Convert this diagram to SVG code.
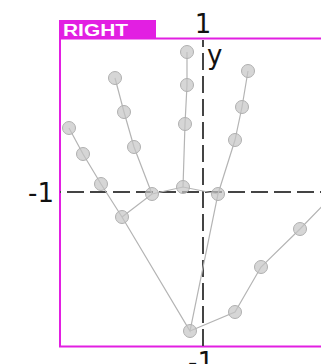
<svg xmlns="http://www.w3.org/2000/svg" width="321" height="364" viewBox="0 0 321 364">
<style>
.axis{stroke:#444;stroke-width:2;stroke-dasharray:17 6;fill:none}
.lbl{font-family:"DejaVu Sans",sans-serif;font-size:26px;fill:#111}
.bone{stroke:#b4b4b4;stroke-width:1.2;fill:none}
.joint{fill:#c4c4c4;fill-opacity:0.7;stroke:#b0b0b0;stroke-width:1}
.frame{fill:none;stroke:#e21fe2;stroke-width:2}
</style>
<rect width="321" height="364" fill="#fff"/>
<g id="frame">
<rect class="frame" x="60" y="38.5" width="280" height="308"/>
<rect x="59" y="20" width="97" height="19" fill="#e21fe2"/>
<text x="63" y="36" font-family="'Liberation Sans',sans-serif" font-weight="bold" font-size="16" fill="#fff" textLength="65" lengthAdjust="spacingAndGlyphs">RIGHT</text>
</g>
<g id="axes">
<line class="axis" x1="203" y1="346" x2="203" y2="40"/>
<line class="axis" x1="60" y1="192" x2="321" y2="192" stroke-dashoffset="16"/>
<text class="lbl" x="203" y="33" text-anchor="middle">1</text>
<text class="lbl" x="54" y="202" text-anchor="end">-1</text>
<text class="lbl" x="201" y="371" text-anchor="middle">-1</text>
<text class="lbl" x="207" y="64">y</text>
</g>
<g id="connectors">
<polyline class="bone" points="69,128 83,154 101,184 122,217 190,331 218,194 235,140 242,107 248,71"/>
<polyline class="bone" points="122,217 152,194 183,187 218,194"/>
<polyline class="bone" points="152,194 134,147 124,112 115,78"/>
<polyline class="bone" points="183,187 185,124 187,85 187,52"/>
<polyline class="bone" points="190,331 235,312 261,267 300,229 338,190"/>
</g>
<g id="joints">
<circle class="joint" cx="190" cy="331" r="6.5"/>
<circle class="joint" cx="122" cy="217" r="6.5"/>
<circle class="joint" cx="101" cy="184" r="6.5"/>
<circle class="joint" cx="83" cy="154" r="6.5"/>
<circle class="joint" cx="69" cy="128" r="6.5"/>
<circle class="joint" cx="152" cy="194" r="6.5"/>
<circle class="joint" cx="134" cy="147" r="6.5"/>
<circle class="joint" cx="124" cy="112" r="6.5"/>
<circle class="joint" cx="115" cy="78" r="6.5"/>
<circle class="joint" cx="183" cy="187" r="6.5"/>
<circle class="joint" cx="185" cy="124" r="6.5"/>
<circle class="joint" cx="187" cy="85" r="6.5"/>
<circle class="joint" cx="187" cy="52" r="6.5"/>
<circle class="joint" cx="218" cy="194" r="6.5"/>
<circle class="joint" cx="235" cy="140" r="6.5"/>
<circle class="joint" cx="242" cy="107" r="6.5"/>
<circle class="joint" cx="248" cy="71" r="6.5"/>
<circle class="joint" cx="235" cy="312" r="6.5"/>
<circle class="joint" cx="261" cy="267" r="6.5"/>
<circle class="joint" cx="300" cy="229" r="6.5"/>
</g>
</svg>
